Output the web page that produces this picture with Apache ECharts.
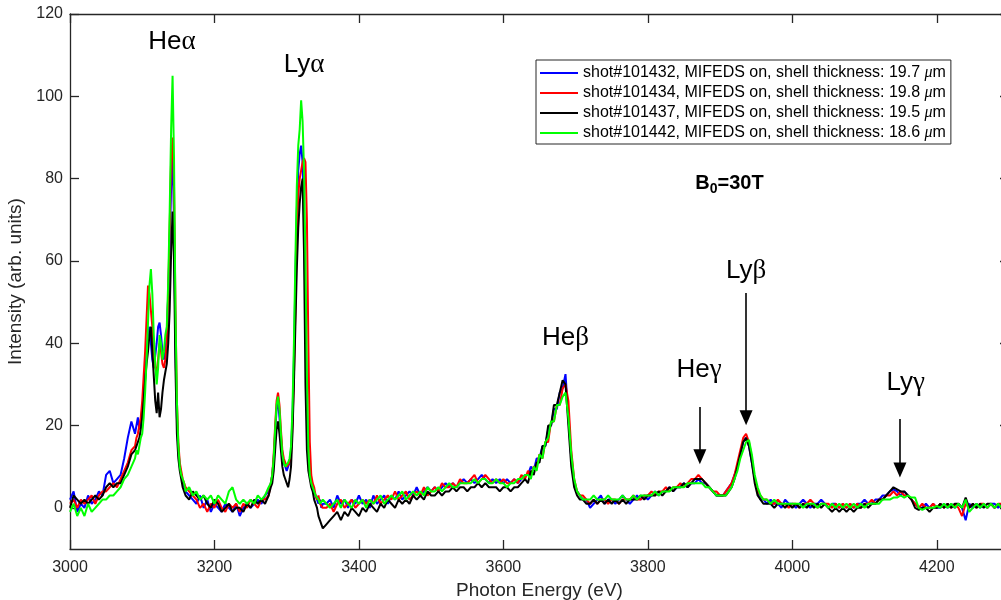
<!DOCTYPE html>
<html>
<head>
<meta charset="utf-8">
<script src="https://cdn.jsdelivr.net/npm/echarts@6/dist/echarts.min.js"></script>
<style>
  html, body { margin: 0; padding: 0; background: #ffffff; }
  #chart { width: 1001px; height: 600px; }
</style>
</head>
<body>
<div id="chart"></div>
<script>
// Photon energy grid (eV), finer sampling across the sharp lines
const energy = [
  3000,3005,3010,3015,3020,3025,3030,3035,3040,3045,3050,3055,3060,3065,3070,3075,3080,3085,3090,
  3092,3094,3096,3098,3100,3102,3104,3106,3108,3110,3112,3114,3116,3118,3120,3122,3124,3126,3128,3130,3132,3134,3136,3138,3140,3142,3144,3146,3148,3150,3152,3154,3156,3158,3160,
  3165,3170,3175,3180,3185,3190,3195,3200,3205,3210,3215,3220,3225,3230,3235,3240,3245,3250,3255,3260,3265,3270,3275,
  3278,3280,3282,3284,3286,3288,3290,3292,3294,3296,3298,3300,3302,3304,3306,3308,3310,3312,3314,3316,3318,3320,3322,3324,3326,3328,3330,3332,3334,3336,3338,3340,3342,3344,3346,3348,3350,
  3355,3360,3365,3370,3375,3380,3385,3390,3395,3400,3405,3410,3415,3420,3425,3430,3435,3440,3445,3450,3455,3460,3465,3470,3475,3480,3485,3490,3495,3500,3505,3510,3515,3520,3525,3530,3535,3540,3545,3550,3555,3560,3565,3570,3575,3580,3585,3590,3595,3600,3605,3610,3615,3620,3625,3630,
  3634,3638,3642,3646,3650,3654,3658,3662,3666,3670,3674,3678,3682,3686,3690,3694,3698,3702,3706,3710,
  3715,3720,3725,3730,3735,3740,3745,3750,3755,3760,3765,3770,3775,3780,3785,3790,3795,3800,3805,3810,3815,3820,3825,3830,3835,3840,3845,3850,3855,3860,3865,3870,3875,3880,3885,3890,3895,3900,
  3904,3908,3912,3916,3920,3924,3928,3932,3936,3940,3944,3948,3952,3956,3960,
  3965,3970,3975,3980,3985,3990,3995,4000,4005,4010,4015,4020,4025,4030,4035,4040,4045,4050,4055,4060,4065,4070,4075,4080,4085,4090,4095,4100,4105,4110,4115,4120,4125,4130,4135,4140,4145,4150,4155,4160,4165,4170,4175,4180,4185,4190,4195,4200,4205,4210,4215,4220,4225,4230,4235,4240,4245,4250,4255,4260,4265,4270,4275,4280,4285,4290,4295,4300
];

// Intensity (arb. units) for each shot, sampled on the grid above
const shot101432 = [
  2,4,-1,1,0,3,1,2,4,3,8,9,6,7,8,12,17,21,18,
  20,22,19,21,24,28,33,38,42,44,40,36,34,37,40,44,45,42,38,36,38,42,52,64,78,86,70,40,22,14,10,8,6,5,4,
  3,2,1,3,0,2,-1,1,0,-1,1,0,-1,1,-2,0,1,0,1,2,1,3,4,
  6,8,12,18,24,26,22,17,13,11,10,9,10,11,14,22,36,55,72,82,86,88,84,70,48,24,12,8,6,5,4,3,2,1,2,0,1,
  1,2,0,3,1,2,0,2,1,3,1,2,0,3,1,2,3,1,3,2,4,2,3,4,3,5,3,4,5,4,5,4,5,6,5,6,5,6,7,6,7,6,7,8,7,6,7,6,7,6,7,6,7,6,7,8,
  8,10,9,12,12,15,15,19,20,24,24,28,29,32.5,22,12,6,4,3,2,
  2,0,1,2,3,1,2,2,1,2,3,2,1,2,3,2,3,2,3,4,3,4,4,5,4,5,5,6,5,6,6,7,6,6,5,4,3,3,
  3,4,5,6,8,10,13,16,17,15,11,7,4,2,2,
  1,2,1,1,0,2,1,1,0,1,2,1,0,1,1,2,1,0,1,1,0,1,0,1,0,1,1,2,1,1,2,2,3,3,4,4.5,4,3,4,3,2,1,0,0,1,0,1,0,0,1,0,1,0,1,0,-3,1,0,1,0,1,0,1,1,0,1,0,1
];
const shot101434 = [
  1,2,0,2,1,2,3,1,3,4,4,5,6,5,7,9,11,14,15,
  17,18,20,22,26,32,38,46,54,52,48,44,38,34,33,36,40,38,35,34,36,40,52,68,85,90,78,48,26,16,11,9,7,6,5,
  4,3,2,0,1,-1,1,0,2,0,-1,1,0,1,-1,1,0,2,1,0,2,2,3,
  6,8,13,20,26,28,25,19,14,12,11,10,10,11,13,20,32,48,65,76,80,82,84,85,84,70,40,16,8,6,5,3,2,3,1,1,0,
  0,1,-1,1,2,0,1,2,0,1,2,1,2,1,3,1,2,3,2,4,2,3,4,2,3,4,3,5,3,4,5,4,6,5,5,6,5,7,6,6,7,8,6,7,8,7,6,7,6,7,6,6,7,6,8,7,
  9,8,10,10,13,12,16,16,21,21,25,25,29,30,26,14,7,4,3,3,
  2,1,2,1,2,2,1,2,2,1,2,2,2,3,2,2,3,3,4,3,4,4,5,4,5,5,6,5,6,7,7,8,7,6,5,4,4,3,
  3,4,5,6,8,11,14,17,18,16,12,7,4,3,2,
  2,1,1,2,1,1,0,1,1,0,1,1,2,1,0,1,1,1,0,1,0,1,0,1,0,1,0,1,1,2,1,2,2,3,3,4,3,4,3,3,2,1,0,1,0,0,1,0,1,0,1,0,1,0,-2,1,0,1,0,1,1,0,1,0,1,1,0,1
];
const shot101437 = [
  0,3,2,1,2,1,2,3,2,3,5,6,5,6,6,8,10,13,14,
  15,16,17,19,22,26,31,35,38,42,44,38,32,26,23,28,22,24,28,31,33,35,40,48,62,72,60,34,18,12,9,7,5,4,3,
  2,4,3,2,3,1,0,2,1,-1,0,1,-1,0,0,-1,1,0,2,1,2,1,3,
  5,6,9,14,19,21,18,14,10,8,7,6,5,7,10,18,30,44,58,68,74,78,80,62,30,14,9,7,5,4,2,1,0,-2,-3,-4,-5,
  -4,-3,-2,-1,-3,-1,-2,0,-1,-2,0,-1,1,0,-1,1,0,2,1,0,2,1,2,1,3,2,3,2,4,3,3,4,3,4,4,5,4,5,5,4,5,5,6,5,6,5,5,5,4,5,5,4,5,5,6,7,
  6,9,8,11,11,15,15,20,20,25,25,28,31,30,20,10,5,3,2,2,
  1,1,2,1,2,1,2,1,2,1,2,1,2,2,2,3,2,3,3,3,4,3,4,5,4,5,5,6,5,6,7,7,7,6,5,4,3,3,
  3,3,4,5,7,10,13,16,17,15,11,6,3,2,1,
  1,1,0,1,1,0,1,0,1,0,1,0,1,0,1,0,1,0,-1,0,-1,0,-1,0,-1,0,0,1,0,1,1,2,2,3,4,5,4.5,4,4,3,2,0,-0.5,0,0,-1,0,0,1,0,1,0,1,1,0,2.5,0,1,0,1,0,1,1,0,1,0,1,0
];
const shot101442 = [
  -1,1,-2,0,-2,1,-1,0,1,2,2,3,3,4,5,7,8,10,12,
  14,13,15,17,18,22,28,36,45,54,58,52,42,35,30,34,42,40,36,38,42,44,55,72,92,105,85,48,26,15,10,8,7,6,4,
  5,3,4,2,3,2,3,1,3,2,1,4,5,2,1,2,1,2,1,3,2,3,5,
  6,8,12,19,25,27,24,18,13,11,10,10,11,12,15,24,40,60,78,88,92,99,94,82,60,32,14,8,6,5,4,3,3,2,1,1,2,
  1,0,1,2,0,2,1,0,2,1,2,0,2,1,2,3,1,2,3,2,3,4,2,3,4,3,4,3,5,4,4,5,4,5,6,5,5,6,6,6,6,7,6,7,7,6,6,7,6,6,5,6,6,7,7,8,
  8,7,10,9,13,12,16,17,21,21,25,25,27,28,22,13,7,4,3,2,
  2,2,3,2,2,2,3,2,2,2,3,2,2,3,2,3,3,3,3,4,3,4,4,4,5,5,5,5,6,6,6,6,6,5,5,4,3,3,
  3,3,4,5,7,9,12,14,16,16.5,13,8,5,3,2,
  2,1,2,1,1,1,1,1,1,1,0,1,1,1,0,1,1,0,1,0,1,0,1,0,1,0,1,0,1,1,1,1,2,2,2,2.5,2.5,3,2.5,3,2.5,2.5,0,-0.5,0,0,0,0.5,0,1,0,1,0,1,0,2,-1,0,1,0,1,0,1,0,1,0,1,0
];

const shotNames = [
  'shot#101432, MIFEDS on, shell thickness: 19.7 μm',
  'shot#101434, MIFEDS on, shell thickness: 19.8 μm',
  'shot#101437, MIFEDS on, shell thickness: 19.5 μm',
  'shot#101442, MIFEDS on, shell thickness: 18.6 μm'
];
const shotValues = [shot101432, shot101434, shot101437, shot101442];
const shotColors = ['#0000ff', '#ff0000', '#000000', '#00ff00'];

// Axis ticks
const xTickStep = 200;
const xLabelMax = 4200;
const yTickValues = [0, 20, 40, 60, 80, 100, 120];

// Spectral line labels: [element part, greek part, energy, intensity]
const lineLabels = [
  ['He', 'α', 3141, 113.2],
  ['Ly', 'α', 3324, 107.7],
  ['He', 'β', 3686, 41.3],
  ['He', 'γ', 3871, 33.5],
  ['Ly', 'β', 3936, 57.6],
  ['Ly', 'γ', 4157, 30.4]
];
// Arrows: [energy, start intensity, tip intensity]
const arrows = [
  [3872, 24.5, 12.4],
  [3936, 52.2, 21.9],
  [4149, 21.6, 9.2]
];
const fieldLabelPos = [3913, 78.7];

const AX = '#262626';
const FONT = 'Liberation Sans, Arial, Helvetica, sans-serif';
const CLEAR = 'rgba(0,0,0,0)';

const chart = echarts.init(document.getElementById('chart'), null, { renderer: 'canvas' });

const spectra = shotNames.map((name, k) => ({
  name: name,
  type: 'line',
  showSymbol: false,
  symbol: 'none',
  animation: false,
  silent: true,
  z: 2 + k,
  lineStyle: { color: shotColors[k], width: 2 },
  itemStyle: { color: shotColors[k] },
  data: energy.map((e, i) => [e, shotValues[k][i]])
}));

const annotations = {
  name: 'annotations',
  type: 'scatter',
  silent: true,
  animation: false,
  symbolSize: 1,
  z: 10,
  itemStyle: { color: CLEAR },
  data: lineLabels.map(l => [l[2], l[3]]),
  label: {
    show: true,
    position: 'inside',
    color: '#000000',
    opacity: 1,
    textBorderWidth: 0,
    formatter: p => '{r|' + lineLabels[p.dataIndex][0] + '}{g|' + lineLabels[p.dataIndex][1] + '}',
    rich: {
      r: { fontFamily: FONT, fontSize: 26, color: '#000000' },
      g: { fontFamily: 'Liberation Serif, serif', fontSize: 27, color: '#000000' }
    }
  },
  markLine: {
    silent: true,
    animation: false,
    symbol: ['none', 'triangle'],
    symbolSize: [13, 15],
    label: { show: false },
    lineStyle: { color: '#000', width: 1.6, type: 'solid' },
    emphasis: { disabled: true },
    data: arrows.map(a => [
      { coord: [a[0], a[1]] },
      { coord: [a[0], a[2]] }
    ])
  }
};

const fieldLabel = {
  name: 'field',
  type: 'scatter',
  silent: true,
  animation: false,
  symbolSize: 1,
  z: 10,
  itemStyle: { color: CLEAR },
  data: [fieldLabelPos],
  label: {
    show: true,
    position: 'inside',
    opacity: 1,
    textBorderWidth: 0,
    formatter: '{b|B}{s|0}{b|=30T}',
    rich: {
      b: { fontFamily: FONT, fontSize: 20, fontWeight: 'bold', color: '#000' },
      s: { fontFamily: FONT, fontSize: 14, fontWeight: 'bold', color: '#000', padding: [10, 0, 0, 0] }
    }
  }
};

const xCommon = {
  type: 'value',
  min: 3000,
  max: 4300,
  interval: xTickStep,
  splitLine: { show: false },
  axisLine: { show: true, onZero: false, lineStyle: { color: AX, width: 1.3 } },
  axisTick: { show: true, inside: true, length: 9, lineStyle: { color: AX, width: 1.3 } }
};
const yCommon = {
  type: 'value',
  min: -10,
  max: 120,
  splitLine: { show: false },
  axisLine: { show: true, onZero: false, lineStyle: { color: AX, width: 1.3 } },
  axisTick: { show: true, inside: true, length: 9, customValues: yTickValues, lineStyle: { color: AX, width: 1.3 } }
};

chart.setOption({
  animation: false,
  backgroundColor: '#ffffff',
  textStyle: { fontFamily: FONT },
  grid: { left: 70, top: 14, width: 939, height: 535, containLabel: false, outerBoundsMode: 'none' },
  xAxis: [
    Object.assign({}, xCommon, {
      position: 'bottom',
      name: 'Photon Energy (eV)',
      nameLocation: 'middle',
      nameGap: 31,
      nameTextStyle: { fontFamily: FONT, fontSize: 19, color: AX },
      axisLabel: {
        show: true, margin: 11, fontFamily: FONT, fontSize: 16, color: AX,
        formatter: v => (v <= xLabelMax ? String(v) : '')
      }
    }),
    Object.assign({}, xCommon, {
      position: 'top',
      axisLabel: { show: false }
    })
  ],
  yAxis: [
    Object.assign({}, yCommon, {
      position: 'left',
      name: 'Intensity (arb. units)',
      nameLocation: 'middle',
      nameGap: 33,
      nameTextStyle: { fontFamily: FONT, fontSize: 19, color: AX },
      axisLabel: { show: true, margin: 7, fontFamily: FONT, fontSize: 16, color: AX, customValues: yTickValues }
    }),
    Object.assign({}, yCommon, {
      position: 'right',
      axisLabel: { show: false }
    })
  ],
  legend: {
    data: shotNames,
    orient: 'vertical',
    left: 536,
    top: 60,
    padding: [5, 5, 3, 4],
    itemGap: 4,
    itemWidth: 38,
    itemHeight: 2,
    icon: 'rect',
    backgroundColor: '#ffffff',
    borderColor: AX,
    borderWidth: 1,
    selectedMode: false,
    z: 20,
    formatter: name => {
      const i = name.indexOf('μ');
      return '{t|' + name.slice(0, i) + '}{mu|μ}{t|m}';
    },
    textStyle: {
      color: '#000',
      padding: [0, 0, 0, 0],
      rich: {
        t: { fontFamily: FONT, fontSize: 16, color: '#000' },
        mu: { fontFamily: 'Liberation Serif, serif', fontStyle: 'italic', fontSize: 16, color: '#000' }
      }
    }
  },
  series: spectra.concat([annotations, fieldLabel])
});
</script>
</body>
</html>
